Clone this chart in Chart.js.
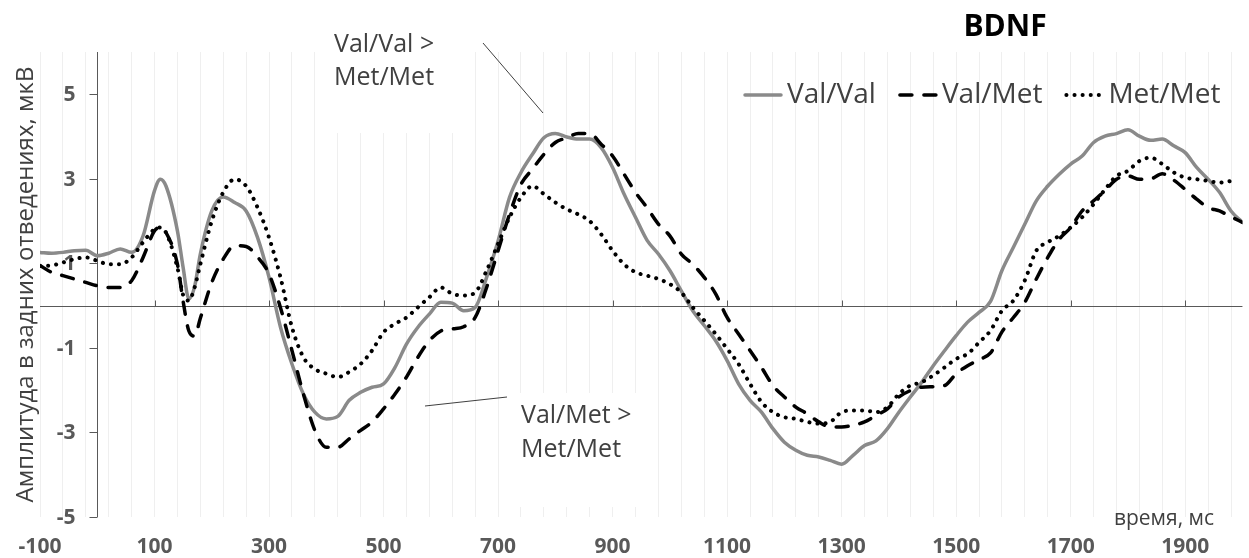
<!DOCTYPE html>
<html>
<head>
<meta charset="utf-8">
<script src="https://cdn.jsdelivr.net/npm/chart.js@4.4.1/dist/chart.umd.min.js"></script>
<style>
  html, body { margin: 0; padding: 0; background: #fff; }
  #wrap { width: 1249px; height: 558px; }
</style>
</head>
<body>
<div id="wrap"><canvas id="myChart"></canvas></div>
<script>
const cox = document.getElementById('myChart').getContext('2d');

// Time points, ms
const times = [
  -100, -80, -60, -40, -20, 0, 20, 40, 60, 80, 100,
  110, 120, 140, 150, 160, 170,
  180, 200, 220, 240, 260, 280, 300, 320, 340, 360,
  380, 400, 420, 440, 460, 480, 500, 520, 540, 560,
  580, 600, 620, 640, 660, 680, 700, 720, 740, 760,
  780, 800, 820, 840, 860, 880, 900, 920, 940, 960,
  980, 1000, 1020, 1040, 1060, 1080, 1100, 1120, 1140, 1160,
  1180, 1200, 1220, 1240, 1260, 1280, 1300, 1320, 1340, 1360,
  1380, 1400, 1420, 1440, 1460, 1480, 1500, 1520, 1540, 1560,
  1580, 1600, 1620, 1640, 1660, 1680, 1700, 1720, 1740, 1760,
  1780, 1800, 1820, 1840, 1860, 1880, 1900, 1920, 1940, 1960,
  1980, 2000
];

// Amplitude, uV
const valVal = [
  1.26, 1.24, 1.26, 1.30, 1.31, 1.18, 1.24, 1.34, 1.26, 1.65, 2.72,
  2.99, 2.83, 1.77, 0.90, 0.16, 0.45,
  1.22, 2.24, 2.57, 2.44, 2.24, 1.61, 0.67, -0.51, -1.38, -2.09,
  -2.52, -2.68, -2.62, -2.24, -2.05, -1.93, -1.85, -1.46, -0.91, -0.51,
  -0.20, 0.08, 0.06, -0.12, -0.04, 0.67, 1.53, 2.56, 3.15, 3.58,
  3.97, 4.07, 3.99, 3.94, 3.94, 3.74, 3.27, 2.64, 2.09, 1.55,
  1.22, 0.83, 0.35, -0.12, -0.47, -0.83, -1.30, -1.85, -2.24, -2.52,
  -2.91, -3.23, -3.42, -3.54, -3.58, -3.66, -3.75, -3.54, -3.31, -3.20,
  -2.91, -2.52, -2.16, -1.81, -1.42, -1.06, -0.71, -0.39, -0.16, 0.10,
  0.83, 1.38, 1.93, 2.48, 2.83, 3.11, 3.35, 3.54, 3.86, 4.01,
  4.07, 4.16, 4.01, 3.91, 3.94, 3.78, 3.62, 3.27, 2.99, 2.68,
  2.24, 1.97
];

const valMet = [
  0.95, 0.79, 0.71, 0.63, 0.55, 0.47, 0.43, 0.43, 0.59, 1.14, 1.77,
  1.85, 1.73, 0.98, 0.10, -0.60, -0.72,
  -0.30, 0.55, 1.10, 1.42, 1.40, 1.15, 0.75, -0.05, -1.06, -2.09,
  -2.95, -3.35, -3.35, -3.15, -2.95, -2.75, -2.44, -2.09, -1.69, -1.22,
  -0.83, -0.60, -0.55, -0.50, -0.28, 0.43, 1.30, 2.16, 2.87, 3.23,
  3.58, 3.86, 3.97, 4.07, 4.07, 3.82, 3.54, 3.11, 2.68, 2.32,
  1.93, 1.65, 1.22, 0.98, 0.67, 0.28, -0.28, -0.67, -1.06, -1.46,
  -1.89, -2.16, -2.40, -2.56, -2.75, -2.87, -2.87, -2.83, -2.75, -2.60,
  -2.44, -2.16, -2.01, -1.93, -1.92, -1.89, -1.61, -1.42, -1.28, -1.12,
  -0.62, -0.28, 0.08, 0.63, 1.14, 1.57, 1.85, 2.24, 2.48, 2.72,
  2.99, 3.07, 2.99, 3.00, 3.12, 2.97, 2.75, 2.52, 2.32, 2.24,
  2.10, 1.97
];

const metMet = [
  0.94, 0.95, 1.02, 1.10, 1.14, 1.06, 0.98, 0.98, 1.14, 1.50, 1.81,
  1.85, 1.73, 0.90, 0.25, 0.12, 0.43,
  0.98, 2.00, 2.68, 2.99, 2.83, 2.32, 1.61, 0.67, -0.51, -1.22,
  -1.50, -1.61, -1.69, -1.57, -1.38, -1.06, -0.63, -0.43, -0.28, -0.04,
  0.20, 0.43, 0.28, 0.24, 0.31, 0.83, 1.46, 2.09, 2.56, 2.83,
  2.64, 2.44, 2.28, 2.16, 2.00, 1.69, 1.30, 0.98, 0.79, 0.71,
  0.63, 0.51, 0.31, -0.04, -0.35, -0.67, -1.02, -1.38, -1.85, -2.28,
  -2.52, -2.64, -2.68, -2.75, -2.79, -2.75, -2.52, -2.48, -2.48, -2.52,
  -2.40, -2.09, -1.89, -1.81, -1.65, -1.46, -1.26, -1.14, -0.87, -0.59,
  -0.12, 0.12, 0.60, 1.30, 1.50, 1.65, 1.85, 2.09, 2.40, 2.75,
  3.07, 3.19, 3.42, 3.50, 3.35, 3.15, 3.03, 2.99, 2.95, 2.91,
  2.95, null
];

// Axis ticks
const xLabelTicks = [-100, 100, 300, 500, 700, 900, 1100, 1300, 1500, 1700, 1900];
const xGridStep = 40;
const yTicks = [-5, -3, -1, 1, 3, 5];

const seriesNames = ['Val/Val', 'Val/Met', 'Met/Met'];
const chartTitle = 'BDNF';
const yTitle = 'Амплитуда в задних отведениях, мкВ';
const xUnit = 'время, мс';
const notes = [
  ['Val/Val >', 'Met/Met'],
  ['Val/Met >', 'Met/Met']
];

const FONT = '"Open Sans", sans-serif';
const INK = '#404040';
const AXIS = '#595959';

const toPoints = vals => times.map((t, i) => ({ x: t, y: vals[i] }));

// Axes crossing at zero, text boxes, title, legend and notes
const decorations = {
    id: 'decorations',
    beforeDraw(chart) {
        const { ctx, width, height } = chart;
        ctx.save();
        ctx.fillStyle = '#ffffff';
        ctx.fillRect(0, 0, width, height);
        ctx.restore();
    },
    beforeDatasetsDraw(chart) {
        const { ctx, chartArea } = chart;
        const xs = chart.scales.x;
        const ys = chart.scales.y;
        const x0 = Math.round(xs.getPixelForValue(0)) + 0.5;
        const y0 = Math.round(ys.getPixelForValue(0)) + 0.5;
        ctx.save();

        // white text boxes hide the grid behind the notes
        ctx.fillStyle = '#ffffff';
        ctx.fillRect(328, 10, 140, 123);
        ctx.fillRect(513, 393, 137, 114);

        // axis lines through zero
        ctx.strokeStyle = AXIS;
        ctx.lineWidth = 1;
        ctx.beginPath();
        ctx.moveTo(x0, chartArea.top);
        ctx.lineTo(x0, chartArea.bottom);
        ctx.moveTo(chartArea.left, y0);
        ctx.lineTo(chartArea.right, y0);
        yTicks.forEach(v => {
            const py = Math.round(ys.getPixelForValue(v)) + 0.5;
            ctx.moveTo(x0 - 8, py);
            ctx.lineTo(x0, py);
        });
        xLabelTicks.filter(v => v > xs.min).forEach(v => {
            const px = Math.round(xs.getPixelForValue(v)) + 0.5;
            ctx.moveTo(px, y0 - 6);
            ctx.lineTo(px, y0);
        });
        ctx.stroke();

        // y labels left of the zero axis
        ctx.font = 'bold 21px ' + FONT;
        ctx.fillStyle = AXIS;
        ctx.textAlign = 'right';
        ctx.textBaseline = 'middle';
        yTicks.forEach(v => ctx.fillText(String(v), x0 - 22, ys.getPixelForValue(v) + 1));
        ctx.restore();
    },
    afterDraw(chart) {
        const { ctx, chartArea } = chart;
        ctx.save();

        // title
        ctx.font = 'bold 30px ' + FONT;
        ctx.fillStyle = '#000000';
        ctx.textAlign = 'center';
        ctx.textBaseline = 'middle';
        ctx.fillText(chartTitle, 1005, 27);

        // y title
        ctx.save();
        ctx.translate(26, (chartArea.top + chartArea.bottom) / 2);
        ctx.rotate(-Math.PI / 2);
        ctx.font = '24px ' + FONT;
        ctx.fillStyle = INK;
        ctx.fillText(yTitle, 0, 0);
        ctx.restore();

        // x unit
        ctx.font = '21px ' + FONT;
        ctx.fillStyle = INK;
        ctx.textAlign = 'right';
        ctx.fillText(xUnit, 1214, 519);

        // notes with pointer lines
        ctx.font = '25px ' + FONT;
        ctx.textAlign = 'left';
        ctx.fillText(notes[0][0], 334, 45);
        ctx.fillText(notes[0][1], 334, 78);
        ctx.fillText(notes[1][0], 521, 416);
        ctx.fillText(notes[1][1], 521, 450);
        ctx.strokeStyle = INK;
        ctx.lineWidth = 1;
        ctx.beginPath();
        ctx.moveTo(483, 43);
        ctx.lineTo(543, 113);
        ctx.moveTo(425, 406);
        ctx.lineTo(507, 397);
        ctx.stroke();

        // legend
        ctx.font = '28px ' + FONT;
        const sample = 40, gapText = 4, gapItem = 22, yMid = 95;
        let xPos = 743;
        chart.data.datasets.forEach(d => {
            ctx.strokeStyle = d.borderColor;
            ctx.lineWidth = d.borderWidth;
            ctx.lineCap = d.borderCapStyle || 'butt';
            ctx.setLineDash(d.borderDash || []);
            ctx.beginPath();
            ctx.moveTo(xPos + 2, yMid);
            ctx.lineTo(xPos + sample - 2, yMid);
            ctx.stroke();
            ctx.setLineDash([]);
            ctx.fillStyle = INK;
            ctx.fillText(d.label, xPos + sample + gapText, yMid);
            xPos += sample + gapText + ctx.measureText(d.label).width + gapItem;
        });
        ctx.restore();
    }
};

const data = {
    datasets: [{
        label: seriesNames[0],
        data: toPoints(valVal),
        borderColor: '#8a8a8a',
        borderWidth: 3.5,
        borderCapStyle: 'round',
        order: 3
    }, {
        label: seriesNames[1],
        data: toPoints(valMet),
        borderColor: '#000000',
        borderWidth: 3.5,
        borderDash: [12, 12],
        borderCapStyle: 'round',
        order: 2
    }, {
        label: seriesNames[2],
        data: toPoints(metMet),
        borderColor: '#000000',
        borderWidth: 4,
        borderDash: [0.1, 8],
        borderCapStyle: 'round',
        order: 1
    }]
};

const options = {
    responsive: true,
    maintainAspectRatio: false,
    animation: false,
    layout: {
        padding: { left: 40, right: 0, top: 52, bottom: 0 }
    },
    elements: {
        point: { radius: 0 },
        line: { cubicInterpolationMode: 'monotone', fill: false }
    },
    plugins: {
        legend: { display: false },
        tooltip: { enabled: false }
    },
    scales: {
        x: {
            type: 'linear',
            min: -100,
            max: 2000,
            afterBuildTicks: scale => {
                const ticks = [];
                for (let v = -100; v < 2000; v += xGridStep) ticks.push({ value: v });
                scale.ticks = ticks;
            },
            // labels sit low, so the axis band is kept tight
            afterFit: scale => { scale.height = 41; },
            grid: { color: '#efefef', drawTicks: false },
            border: { display: false },
            ticks: {
                autoSkip: false,
                maxRotation: 0,
                padding: 18,
                color: AXIS,
                font: { family: FONT, size: 21, weight: 'bold', lineHeight: 1.1 },
                callback: v => xLabelTicks.includes(v) ? String(v) : ''
            }
        },
        y: {
            type: 'linear',
            display: false,
            min: -5,
            max: 6
        }
    }
};

const myChart = new Chart(cox, {
    type: 'line',
    data: data,
    options: options,
    plugins: [decorations]
});
</script>
</body>
</html>
